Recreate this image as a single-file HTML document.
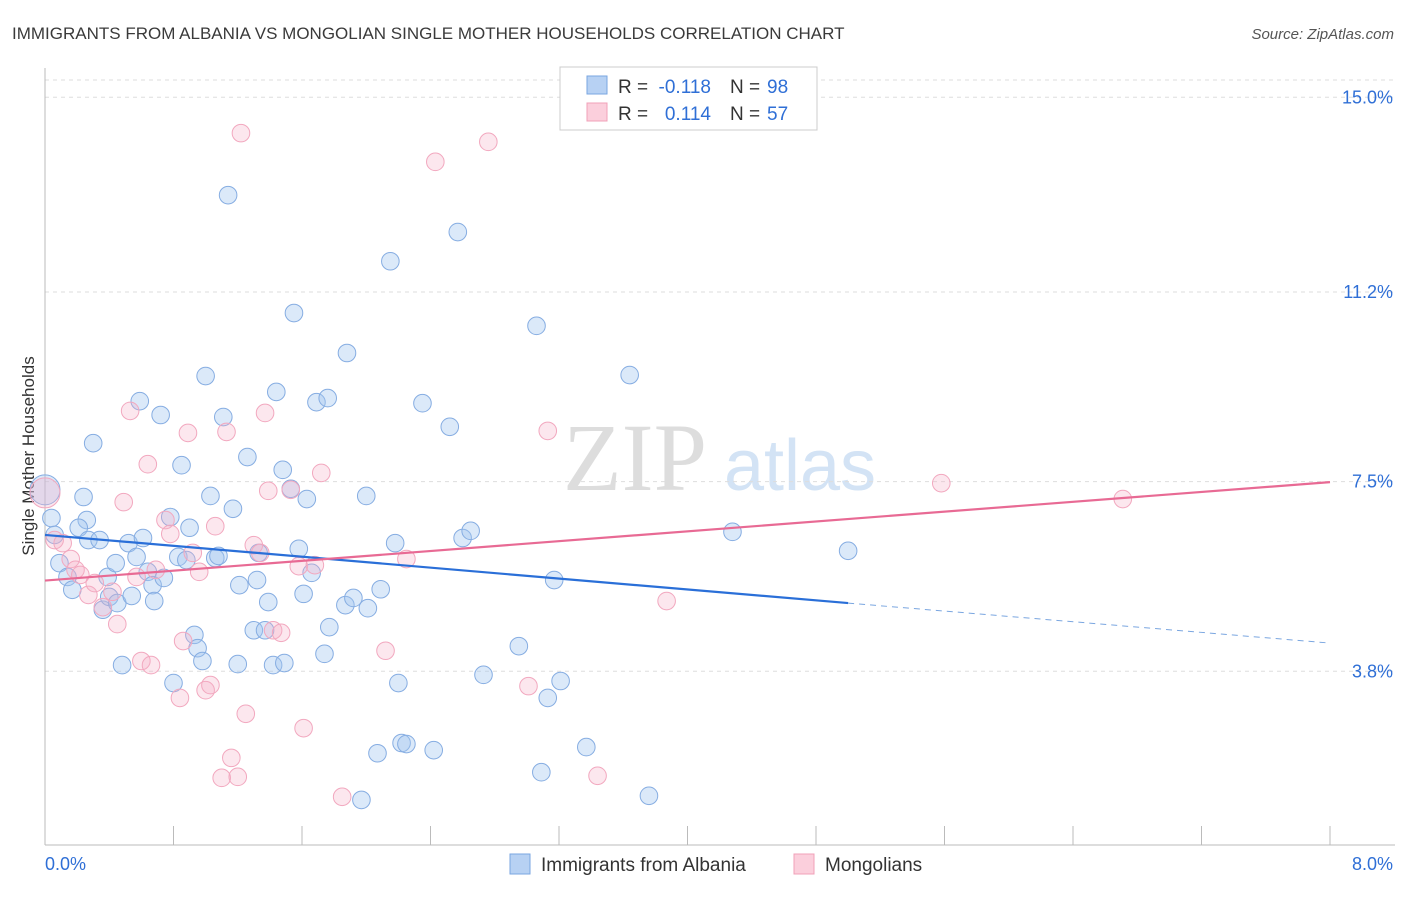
<!DOCTYPE html>
<html><head><meta charset="utf-8"><style>
body{margin:0;background:#fff;font-family:"Liberation Sans",sans-serif;}
svg text{font-family:"Liberation Sans",sans-serif;}
</style></head><body>
<svg id="c" width="1406" height="892">
<text x="12" y="39" font-size="17" fill="#3a3a3a">IMMIGRANTS FROM ALBANIA VS MONGOLIAN SINGLE MOTHER HOUSEHOLDS CORRELATION CHART</text>
<text x="1394" y="39" font-size="15" fill="#555" text-anchor="end" font-style="italic">Source: ZipAtlas.com</text>
<text x="34" y="456" font-size="17" fill="#333" text-anchor="middle" transform="rotate(-90 34 456)">Single Mother Households</text>
<g id="wm">
<text x="635" y="490" font-size="96" fill="#ddd" text-anchor="middle" style="font-family:'Liberation Serif',serif">ZIP</text>
<text x="800" y="490" font-size="72" fill="#d3e3f5" text-anchor="middle">atlas</text>
</g>
<g id="grid"></g><g id="axes"></g><g id="marks"></g><g id="lines"></g>
<g>
<rect x="560" y="67" width="257" height="63" fill="#fff" stroke="#ccc"/>
<rect x="587" y="76" width="20" height="18" fill="#b7d1f3" stroke="#7aa6e0"/>
<rect x="587" y="103" width="20" height="18" fill="#fbcfdc" stroke="#f0a0b8"/>
<text x="618" y="93" font-size="19" fill="#333">R =</text>
<text x="711" y="93" font-size="19" fill="#2f6fd6" text-anchor="end">-0.118</text>
<text x="730" y="93" font-size="19" fill="#333">N =</text>
<text x="767" y="93" font-size="19" fill="#2f6fd6">98</text>
<text x="618" y="120" font-size="19" fill="#333">R =</text>
<text x="711" y="120" font-size="19" fill="#2f6fd6" text-anchor="end">0.114</text>
<text x="730" y="120" font-size="19" fill="#333">N =</text>
<text x="767" y="120" font-size="19" fill="#2f6fd6">57</text>
</g>
<g>
<rect x="510" y="854" width="20" height="20" fill="#b7d1f3" stroke="#7aa6e0"/>
<text x="541" y="871" font-size="19" fill="#333">Immigrants from Albania</text>
<rect x="794" y="854" width="20" height="20" fill="#fbcfdc" stroke="#f0a0b8"/>
<text x="825" y="871" font-size="19" fill="#333">Mongolians</text>
</g>
</svg>
<script>
const yTicks=[15.0,11.2,7.5,3.8];
const yTickLabels=["15.0%","11.2%","7.5%","3.8%"];
const xTickCount=10;
const xLabels=["0.0%","8.0%"];
const blueX=[0.00,0.04,0.06,0.24,0.26,0.30,0.09,0.14,0.17,0.21,0.27,0.34,0.36,0.39,0.40,0.44,0.45,0.48,0.52,0.54,0.57,0.59,0.61,0.64,0.67,0.68,0.72,0.74,0.78,0.80,0.83,0.85,0.88,0.90,0.93,0.95,0.98,1.00,1.03,1.06,1.08,1.11,1.14,1.17,1.20,1.21,1.26,1.30,1.32,1.33,1.37,1.39,1.42,1.44,1.48,1.49,1.53,1.55,1.58,1.61,1.63,1.66,1.69,1.74,1.76,1.77,1.88,1.87,1.92,2.00,2.01,2.07,2.09,2.15,2.18,2.20,2.22,2.25,2.35,2.42,2.52,2.57,2.60,2.65,2.73,2.95,3.06,3.09,3.13,3.17,3.21,3.37,3.64,3.76,4.28,5.00,1.97];
const blueY=[7.34,6.79,6.46,7.20,6.75,8.25,5.91,5.64,5.39,6.60,6.36,6.36,5.00,5.64,5.25,5.91,5.13,3.92,6.30,5.27,6.03,9.07,6.40,5.74,5.48,5.17,8.80,5.62,6.81,3.57,6.03,7.82,5.97,6.60,4.51,4.25,4.00,9.56,7.22,6.01,6.05,8.76,13.09,6.97,3.94,5.48,7.98,4.60,5.58,6.11,4.60,5.15,3.92,9.25,7.73,3.96,7.36,10.79,6.19,5.31,7.16,5.72,9.05,4.14,9.13,4.66,10.01,5.09,5.23,7.22,5.03,2.20,5.40,11.80,6.30,3.57,2.40,2.38,9.03,2.26,8.57,12.37,6.40,6.54,3.73,4.29,10.54,1.83,3.28,5.58,3.61,2.32,9.58,1.37,6.52,6.15,1.29];
const pinkX=[0.00,0.06,0.11,0.16,0.19,0.22,0.27,0.31,0.36,0.42,0.45,0.49,0.53,0.57,0.60,0.64,0.66,0.69,0.75,0.78,0.84,0.86,0.89,0.92,0.96,1.00,1.03,1.06,1.10,1.13,1.16,1.20,1.22,1.25,1.30,1.34,1.37,1.39,1.42,1.47,1.53,1.58,1.61,1.68,1.72,1.85,2.12,2.25,2.43,2.76,3.01,3.13,3.44,3.87,5.58,6.71];
const pinkY=[7.28,6.36,6.30,5.99,5.78,5.68,5.29,5.52,5.05,5.35,4.72,7.10,8.88,5.64,4.00,7.84,3.92,5.78,6.75,6.48,3.28,4.39,8.45,6.11,5.74,3.43,3.53,6.63,1.72,8.47,2.11,1.74,14.30,2.97,6.26,6.11,8.84,7.32,4.60,4.55,7.34,5.85,2.69,5.87,7.67,1.35,4.20,5.99,13.74,14.13,3.51,8.49,1.76,5.17,7.47,7.16];
const blueTrend=[[0,6.46],[5,5.13]];
const blueTrendDash=[[5,5.13],[8,4.35]];
const pinkTrend=[[0,5.57],[8,7.49]];
const NS="http://www.w3.org/2000/svg";
const X=v=>45+v/8*1285, Y=v=>866-v*51.25;
function mk(t,a,p){const e=document.createElementNS(NS,t);for(const k in a)e.setAttribute(k,a[k]);document.getElementById(p).appendChild(e);return e;}
let g=mk('line',{x1:45,x2:1395,y1:80,y2:80,stroke:'#ddd','stroke-dasharray':'4 4'},'grid');


yTicks.forEach((t,i)=>{
 const l=mk('line',{x1:45,x2:1395,y1:Y(t),y2:Y(t),stroke:'#ddd','stroke-dasharray':'4 4'},'grid');
 
 
 const tx=mk('text',{x:1393,y:Y(t)+6,'font-size':18,fill:'#2f6fd6','text-anchor':'end'},'grid');
 tx.textContent=yTickLabels[i];
 
 
});
let a=mk('line',{x1:45,x2:45,y1:68,y2:845,stroke:'#bbb'},'axes');


a=mk('line',{x1:45,x2:1395,y1:845,y2:845,stroke:'#bbb'},'axes');


for(let i=0;i<=xTickCount;i++){const v=8*i/xTickCount;
 const t=mk('line',{x1:X(v),x2:X(v),y1:826,y2:845,stroke:'#bbb'},'axes');
 
 }
[[0,'start',45],[8,'end',1393]].forEach(([v,an,px],i)=>{
 const t=mk('text',{x:px,y:870,'font-size':18,fill:'#2f6fd6','text-anchor':an},'axes');
 t.textContent=xLabels[i];
 
 });
function pts(xs,ys,fill,stroke,name){xs.forEach((x,i)=>{
 const c=mk('circle',{cx:X(x),cy:Y(ys[i]),r:i===0?15:8.8,fill:fill,stroke:stroke,'stroke-width':1},'marks');
 
 });}
pts(blueX,blueY,'rgba(160,196,240,0.38)','#86ade2','albania-point');
pts(pinkX,pinkY,'rgba(246,176,200,0.3)','#f2a8bf','mongolian-point');
function ln(p,col,dash,name){const l=mk('line',{x1:X(p[0][0]),y1:Y(p[0][1]),x2:X(p[1][0]),y2:Y(p[1][1]),stroke:col,'stroke-width':dash?1:2.2,'stroke-dasharray':dash?'6 5':'none'},'lines');
 
 }
ln(blueTrend,'#2a6fd8',false,'albania-trendline');
ln(blueTrendDash,'#7aa6e0',true,'albania-trendline-extension');
ln(pinkTrend,'#e86a94',false,'mongolian-trendline');
</script>
</body></html>
